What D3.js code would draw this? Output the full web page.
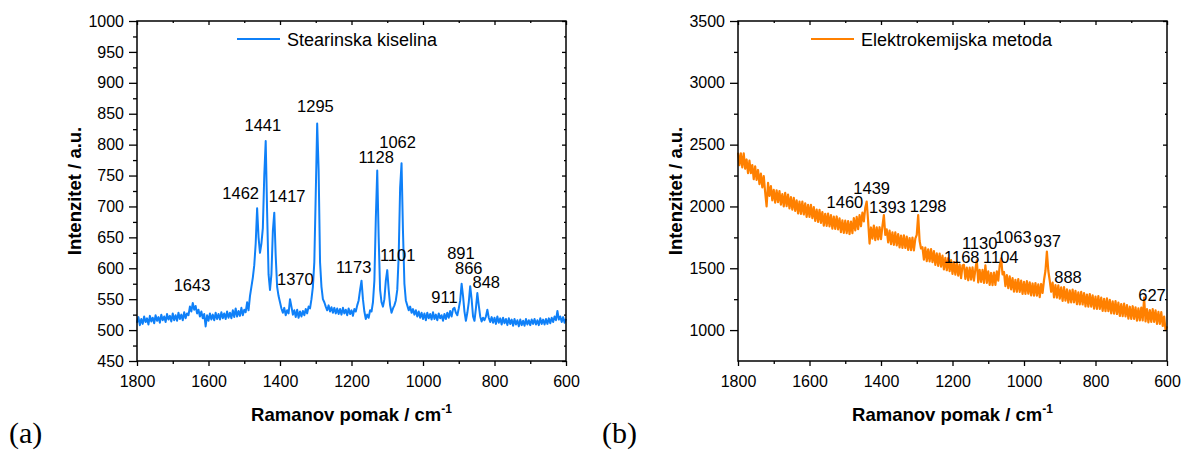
<!DOCTYPE html>
<html><head><meta charset="utf-8">
<script src="https://cdn.jsdelivr.net/npm/d3@7"></script>
<style>
body{margin:0;background:#fff}
svg{display:block}
</style>
</head><body>
<svg id="chart" width="1182" height="452"></svg>
<script>
// Raman shift grid (cm-1), shared by both spectra
const ramanShift = [
1800,1796,1792,1788,1784,1780,1776,1772,1768,1764,
1760,1756,1752,1748,1744,1740,1736,1732,1728,1724,
1720,1716,1712,1708,1704,1700,1696,1692,1688,1684,
1680,1676,1672,1668,1664,1660,1656,1652,1648,1644,
1640,1636,1632,1628,1624,1620,1616,1612,1608,1604,
1600,1596,1592,1588,1584,1580,1576,1572,1568,1564,
1560,1556,1552,1548,1544,1540,1536,1532,1528,1524,
1520,1516,1512,1508,1504,1500,1496,1492,1488,1484,
1480,1476,1472,1468,1464,1460,1456,1452,1448,1444,
1440,1436,1432,1428,1424,1420,1416,1412,1408,1404,
1400,1396,1392,1388,1384,1380,1376,1372,1368,1364,
1360,1356,1352,1348,1344,1340,1336,1332,1328,1324,
1320,1316,1312,1308,1304,1300,1296,1292,1288,1284,
1280,1276,1272,1268,1264,1260,1256,1252,1248,1244,
1240,1236,1232,1228,1224,1220,1216,1212,1208,1204,
1200,1196,1192,1188,1184,1180,1176,1172,1168,1164,
1160,1156,1152,1148,1144,1140,1136,1132,1128,1124,
1120,1116,1112,1108,1104,1100,1096,1092,1088,1084,
1080,1076,1072,1068,1064,1060,1056,1052,1048,1044,
1040,1036,1032,1028,1024,1020,1016,1012,1008,1004,
1000,996,992,988,984,980,976,972,968,964,
960,956,952,948,944,940,936,932,928,924,
920,916,912,908,904,900,896,892,888,884,
880,876,872,868,864,860,856,852,848,844,
840,836,832,828,824,820,816,812,808,804,
800,796,792,788,784,780,776,772,768,764,
760,756,752,748,744,740,736,732,728,724,
720,716,712,708,704,700,696,692,688,684,
680,676,672,668,664,660,656,652,648,644,
640,636,632,628,624,620,616,612,608,604,
600];

// (a) Stearinska kiselina
const intensityA = [
512,521,508,518,510,522,513,519,509,523,
514,520,511,524,515,521,512,525,516,522,
513,526,517,523,514,527,516,524,515,528,
518,525,516,529,519,527,524,538,530,544,
533,539,527,533,522,530,519,526,506,524,
515,527,517,525,516,528,518,526,517,529,
519,527,518,530,520,528,519,532,521,535,
522,531,523,536,524,533,529,545,532,555,
570,585,605,640,697,650,625,640,665,750,
806,690,590,565,590,660,690,620,570,555,
545,535,528,536,524,532,527,550,538,525,
532,521,533,520,530,522,531,524,534,527,
538,535,550,570,610,720,834,760,610,570,
550,545,538,532,540,530,537,528,536,527,
535,526,534,525,536,527,533,524,535,526,
532,523,534,530,540,548,565,580,550,530,
518,525,520,532,530,545,580,680,758,650,
565,545,538,550,580,597,565,540,528,535,
540,548,565,620,730,770,660,575,548,540,
532,538,528,534,525,532,522,530,520,528,
518,527,516,528,519,526,517,529,518,525,
516,527,519,524,515,526,518,528,520,531,
522,534,536,528,524,535,548,575,555,530,
515,528,545,571,550,522,515,535,560,540,
522,514,520,516,522,533,520,513,521,512,
520,510,522,512,519,509,520,511,518,508,
519,510,517,507,518,509,516,506,517,508,
515,507,518,509,516,508,517,510,518,509,
516,508,519,510,517,509,518,510,519,511,
520,513,522,516,531,517,522,513,521,512,
518];

// (b) Elektrokemijska metoda
const intensityB = [
2435,2335,2430,2315,2430,2305,2380,2270,2370,2270,
2335,2220,2325,2215,2295,2180,2265,2155,2245,2115,
2000,2190,2085,2165,2050,2135,2030,2130,2035,2125,
2015,2100,2000,2110,2003,2095,1985,2075,1975,2070,
1965,2050,1943,2040,1940,2040,1935,2025,1915,2013,
1915,2013,1905,1995,1883,1975,1875,1973,1867,1955,
1845,1941,1842,1943,1839,1930,1821,1917,1818,1919,
1815,1904,1793,1887,1786,1885,1785,1881,1777,1878,
1785,1905,1807,1915,1816,1930,1840,1950,1880,1990,
2040,1880,1700,1830,1740,1845,1728,1831,1734,1832,
1735,1840,1930,1770,1815,1710,1805,1695,1790,1690,
1790,1685,1777,1669,1765,1665,1767,1664,1756,1648,
1745,1647,1749,1645,1740,1770,1931,1720,1660,1670,
1570,1667,1558,1654,1555,1655,1549,1638,1527,1621,
1520,1619,1513,1602,1491,1585,1484,1583,1477,1566,
1455,1549,1448,1547,1441,1530,1421,1522,1528,1414,
1505,1403,1506,1409,1507,1400,1492,1564,1386,1488,
1390,1488,1381,1524,1382,1475,1366,1462,1363,1465,
1365,1475,1400,1520,1581,1450,1470,1355,1445,1340,
1435,1330,1420,1311,1407,1310,1412,1309,1401,1293,
1390,1293,1396,1294,1387,1280,1377,1279,1381,1278,
1370,1267,1373,1300,1405,1480,1634,1480,1400,1310,
1385,1265,1363,1262,1361,1255,1346,1237,1348,1239,
1330,1223,1321,1224,1327,1225,1317,1209,1306,1208,
1310,1207,1299,1191,1288,1190,1292,1189,1281,1173,
1270,1172,1274,1171,1263,1155,1252,1154,1256,1153,
1245,1136,1232,1133,1234,1130,1222,1114,1211,1113,
1215,1111,1202,1093,1189,1090,1193,1091,1184,1077,
1175,1078,1181,1079,1262,1070,1169,1063,1162,1066,
1170,1067,1159,1051,1148,1050,1145,1033,1110,1000,
1030];

const xTicks = [1800,1600,1400,1200,1000,800,600];
const xMinorTicks = [1700,1500,1300,1100,900,700];
const yTicksA = [450,500,550,600,650,700,750,800,850,900,950,1000];
const yMinorTicksA = [475,525,575,625,675,725,775,825,875,925,975];
const yTicksB = [1000,1500,2000,2500,3000,3500];
const yMinorTicksB = [1250,1750,2250,2750,3250];

// peak annotations: text, label centre (cm-1), label baseline (intensity)
const peakTextA = ["1643","1462","1441","1417","1370","1295","1173","1128","1101","1062","911","891","866","848"];
const peakShiftA = [1646,1510,1448,1380,1357,1301,1194,1131,1071,1071,940,894,872,823];
const peakLevelA = [564,712,822,708,573,852,593,770,611,795,544,615,591,568];

const peakTextB = ["1460","1439","1393","1298","1168","1130","1104","1063","937","888","627"];
const peakShiftB = [1501,1426,1382,1268,1174,1124,1065,1030,935,877,642];
const peakLevelB = [1985,2098,1950,1958,1540,1653,1540,1707,1670,1378,1238];

const SANS = '"Liberation Sans", Arial, sans-serif';
const SERIF = '"Liberation Serif", "Times New Roman", serif';
const svg = d3.select("#chart");

function panel(o) {
  const x = d3.scaleLinear().domain([1800, 600]).range([o.left, o.right]);
  const y = d3.scaleLinear().domain(o.yDomain).range([o.bottom, o.top]);
  const g = svg.append("g");

  // spectrum
  const pts = ramanShift.map((s, i) => [s, o.values[i]]);
  g.append("path")
    .datum(pts)
    .attr("fill", "none")
    .attr("stroke", o.color)
    .attr("stroke-width", o.width)
    .attr("stroke-linejoin", "round")
    .attr("d", d3.line().x(d => x(d[0])).y(d => y(d[1])));

  const styleAxis = sel => {
    sel.select(".domain").remove();
    sel.selectAll("line").attr("stroke", "#000").attr("stroke-width", 1.3);
    sel.selectAll("text").style("font-size", "16px").style("fill", "#000")
      .style("font-family", SANS);
  };

  // bottom axis
  g.append("g").attr("transform", `translate(0,${o.bottom})`)
    .call(d3.axisBottom(x).tickValues(xTicks).tickSize(5).tickPadding(10).tickFormat(d3.format("d")))
    .call(styleAxis);
  g.append("g").attr("transform", `translate(0,${o.bottom})`)
    .call(d3.axisBottom(x).tickValues(xMinorTicks).tickSize(3).tickFormat(""))
    .call(styleAxis);
  // top axis (inward)
  g.append("g").attr("transform", `translate(0,${o.top})`)
    .call(d3.axisTop(x).tickValues(xTicks).tickSize(-4).tickFormat(""))
    .call(styleAxis);
  g.append("g").attr("transform", `translate(0,${o.top})`)
    .call(d3.axisTop(x).tickValues(xMinorTicks).tickSize(-2).tickFormat(""))
    .call(styleAxis);
  // left axis
  g.append("g").attr("transform", `translate(${o.left},0)`)
    .call(d3.axisLeft(y).tickValues(o.yTicks).tickSize(8).tickPadding(5).tickFormat(d3.format("d")))
    .call(styleAxis);
  g.append("g").attr("transform", `translate(${o.left},0)`)
    .call(d3.axisLeft(y).tickValues(o.yMinor).tickSize(4).tickFormat(""))
    .call(styleAxis);
  // right axis (inward)
  g.append("g").attr("transform", `translate(${o.right},0)`)
    .call(d3.axisRight(y).tickValues(o.yTicks).tickSize(-4).tickFormat(""))
    .call(styleAxis);
  g.append("g").attr("transform", `translate(${o.right},0)`)
    .call(d3.axisRight(y).tickValues(o.yMinor).tickSize(-2).tickFormat(""))
    .call(styleAxis);

  // frame
  g.append("rect")
    .attr("x", o.left).attr("y", o.top)
    .attr("width", o.right - o.left).attr("height", o.bottom - o.top)
    .attr("fill", "none").attr("stroke", "#000").attr("stroke-width", 1.5);

  // peak labels
  o.peakText.forEach((t, i) => {
    g.append("text")
      .attr("x", x(o.peakShift[i])).attr("y", y(o.peakLevel[i]))
      .attr("text-anchor", "middle")
      .style("font-family", SANS).style("font-size", "16.5px")
      .text(t);
  });

  // legend
  g.append("line")
    .attr("x1", o.legendX).attr("x2", o.legendX + 43)
    .attr("y1", o.top + 18).attr("y2", o.top + 18)
    .attr("stroke", o.color).attr("stroke-width", 2.2);
  g.append("text")
    .attr("x", o.legendX + 50).attr("y", o.top + 24.5)
    .style("font-family", SANS).style("font-size", "18px")
    .text(o.legend);

  // axis titles
  const cx = (o.left + o.right) / 2;
  const xt = g.append("text")
    .attr("x", cx).attr("y", 421)
    .attr("text-anchor", "middle")
    .style("font-family", SANS).style("font-size", "18.5px").style("font-weight", "bold");
  xt.append("tspan").text("Ramanov pomak / cm");
  xt.append("tspan").style("font-size", "12px").attr("dy", -8).text("-1");

  g.append("text")
    .attr("transform", `translate(${o.left - 56},${(o.top + o.bottom) / 2}) rotate(-90)`)
    .attr("text-anchor", "middle")
    .style("font-family", SANS).style("font-size", "18.5px").style("font-weight", "bold")
    .text("Intenzitet / a.u.");

  // panel letter
  svg.append("text")
    .attr("x", o.letterX).attr("y", 443)
    .style("font-family", SERIF).style("font-size", "30px")
    .text(o.letter);
}

panel({
  left: 137, right: 566, top: 21, bottom: 361,
  yDomain: [450, 1000], yTicks: yTicksA, yMinor: yMinorTicksA,
  values: intensityA, color: "#0f80f8", width: 2,
  legend: "Stearinska kiselina", legendX: 237,
  peakText: peakTextA, peakShift: peakShiftA, peakLevel: peakLevelA,
  letter: "(a)", letterX: 9
});

panel({
  left: 738, right: 1167, top: 21, bottom: 361,
  yDomain: [750, 3500], yTicks: yTicksB, yMinor: yMinorTicksB,
  values: intensityB, color: "#ff8000", width: 2.2,
  legend: "Elektrokemijska metoda", legendX: 811,
  peakText: peakTextB, peakShift: peakShiftB, peakLevel: peakLevelB,
  letter: "(b)", letterX: 602
});
</script>
</body></html>
